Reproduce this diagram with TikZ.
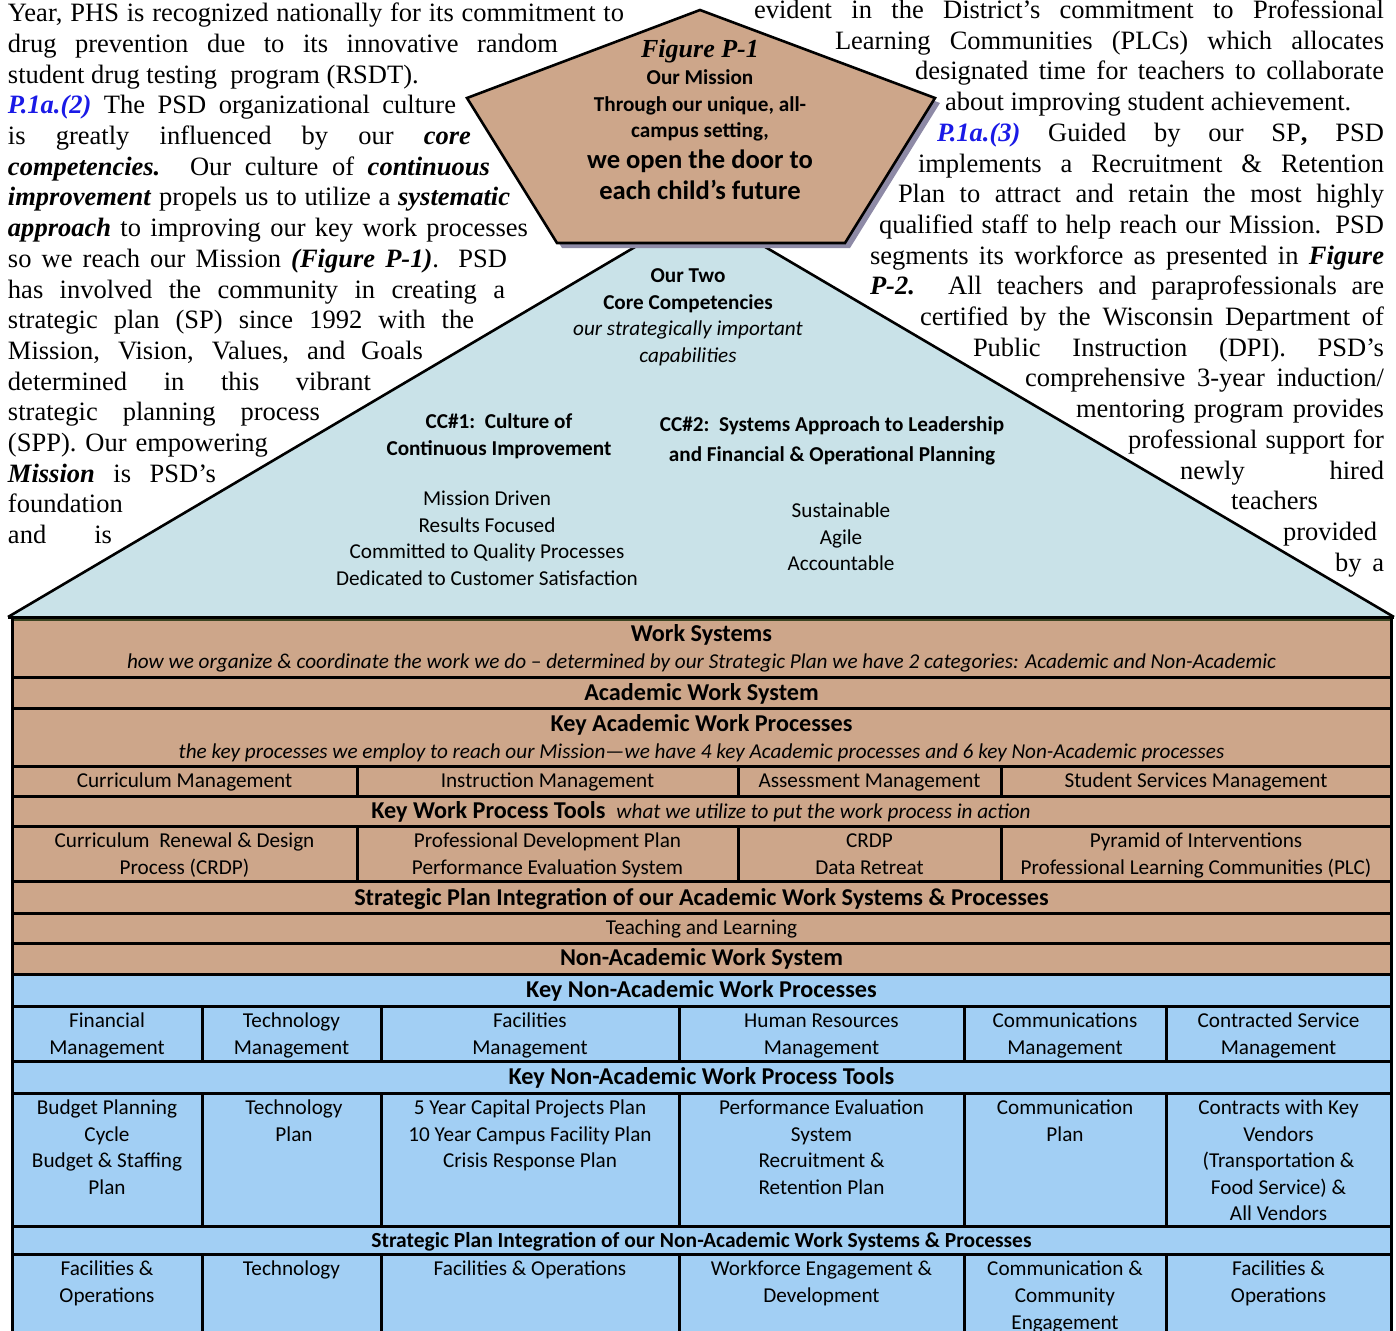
\documentclass[tikz,border=0pt]{standalone}
\usepackage{fontspec}
\setmainfont{Liberation Serif}
\newfontfamily\calfont{Carlito}
\definecolor{tanfill}{HTML}{CDA68A}
\definecolor{trifill}{HTML}{C9E2E8}
\definecolor{bluefill}{HTML}{A2CFF4}
\definecolor{shadowc}{HTML}{8E8AA6}
\definecolor{pblue}{HTML}{1A1AE6}
\definecolor{oliveline}{HTML}{3C4422}
\newcommand\bodysize{\fontsize{26.5}{30.7}\selectfont}
\newcommand\calsize{\calfont\fontsize{21.2}{26.5}\selectfont}
\newcommand\hdrsize{\calfont\fontsize{24.2}{30}\selectfont\bfseries}
\newcommand\bi[1]{\textbf{\textit{#1}}}
\newcommand\pref[1]{\textcolor{pblue}{\bi{#1}}}
\newcommand\J[2]{\makebox[#1pt][s]{#2}}
\tikzset{
  bodyl/.style={anchor=base west, inner sep=0pt, outer sep=0pt, font=\bodysize},
  ctext/.style={anchor=north, inner sep=0pt, outer sep=0pt, align=center, font=\calsize},
  hdr/.style={ctext, font=\hdrsize},
  cell27/.style={ctext, font=\calfont\fontsize{21.2}{27}\selectfont},
  rulel/.style={line width=3pt, line cap=rect},
  edgeline/.style={line width=2.6pt, line join=miter},
}
\begin{document}
\begin{tikzpicture}[x=1pt,y=-1pt]
\path[use as bounding box] (0,0) rectangle (1396,1330);
\clip (0,0) rectangle (1396,1330);

% ---------- body text, left column ----------
\node[bodyl] (L1) at (8,21.7) {\J{616}{Year, PHS is recognized nationally for its commitment to}};
\node[bodyl] (L2) at (8,52.4) {\J{550}{drug prevention due to its innovative random}};
\node[bodyl] (L3) at (8,83.1) {student drug testing\ \ program (RSDT).};
\node[bodyl] (L4) at (8,113.8) {\J{448}{\pref{P.1a.(2)} The PSD organizational culture}};
\node[bodyl] (L5) at (8,144.5) {\J{463}{is greatly influenced by our \bi{core}}};
\node[bodyl] (L6) at (8,175.2) {\J{482}{\bi{competencies.} Our culture of \bi{continuous}}};
\node[bodyl] (L7) at (8,205.9) {\J{502}{\bi{improvement} propels us to utilize a \bi{systematic}}};
\node[bodyl] (L8) at (8,236.6) {\J{520}{\bi{approach} to improving our key work processes}};
\node[bodyl] (L9) at (8,267.3) {\J{499}{so we reach our Mission \bi{(Figure P-1)}. PSD}};
\node[bodyl] (L10) at (8,298.0) {\J{497}{has involved the community in creating a}};
\node[bodyl] (L11) at (8,328.7) {\J{466}{strategic plan (SP) since 1992 with the}};
\node[bodyl] (L12) at (8,359.4) {\J{415}{Mission, Vision, Values, and Goals}};
\node[bodyl] (L13) at (8,390.1) {\J{363}{determined in this vibrant}};
\node[bodyl] (L14) at (8,420.8) {\J{312}{strategic planning process}};
\node[bodyl] (L15) at (8,451.5) {\J{260}{(SPP). Our empowering}};
\node[bodyl] (L16) at (8,482.2) {\J{208}{\bi{Mission} is PSD’s}};
\node[bodyl] (L17) at (8,512.9) {foundation};
\node[bodyl] (L18) at (8,543.6) {\J{104}{and is}};

% ---------- body text, right column ----------
\node[bodyl] (R1) at (754,18.5) {\J{630}{evident in the District’s commitment to Professional}};
\node[bodyl] (R2) at (835,49.2) {\J{549}{Learning Communities (PLCs) which allocates}};
\node[bodyl] (R3) at (915,79.9) {\J{469}{designated time for teachers to collaborate}};
\node[bodyl] (R4) at (945,110.6) {about improving student achievement.};
\node[bodyl] (R5) at (937,141.3) {\J{447}{\pref{P.1a.(3)} Guided by our SP\textbf{,} PSD}};
\node[bodyl] (R6) at (918,172.0) {\J{466}{implements a Recruitment \& Retention}};
\node[bodyl] (R7) at (898,202.7) {\J{486}{Plan to attract and retain the most highly}};
\node[bodyl] (R8) at (879,233.4) {\J{505}{qualified staff to help reach our Mission. PSD}};
\node[bodyl] (R9) at (870,264.1) {\J{514}{segments its workforce as presented in \bi{Figure}}};
\node[bodyl] (R10) at (870,294.8) {\J{514}{\bi{P-2.} All teachers and paraprofessionals are}};
\node[bodyl] (R11) at (920,325.5) {\J{464}{certified by the Wisconsin Department of}};
\node[bodyl] (R12) at (973,356.2) {\J{411}{Public Instruction (DPI). PSD’s}};
\node[bodyl] (R13) at (1025,386.9) {\J{359}{comprehensive 3-year induction/}};
\node[bodyl] (R14) at (1076,417.6) {\J{308}{mentoring program provides}};
\node[bodyl] (R15) at (1128,448.3) {\J{256}{professional support for}};
\node[bodyl] (R16) at (1180,479.0) {\J{204}{newly hired}};
\node[bodyl] (R17) at (1231,509.7) {teachers};
\node[bodyl] (R18) at (1283,540.4) {provided};
\node[bodyl] (R19) at (1335,571.1) {\J{49}{by a}};

% ---------- triangle (core competencies) ----------
\fill[trifill] (10,616) -- (700,208.6) -- (1392,616) -- cycle;
\draw[edgeline] (8,617) -- (700,208.6) -- (1394,617);
\draw[line width=3pt] (8,617) -- (1394,617);

% ---------- pentagon (mission) ----------
\fill[shadowc] (705,15) -- (940,103) -- (850,248) -- (562,248) -- (472,103) -- cycle;
\filldraw[fill=tanfill, draw=black, line width=2.6pt, line join=miter]
  (700,10) -- (935,98) -- (845,243) -- (557,243) -- (467,98) -- cycle;

\node[anchor=base, inner sep=0pt, font=\fontsize{26}{30}\selectfont] (figt) at (700,58) {\bi{Figure P-1}};
\node[ctext, font=\calsize\bfseries] (mis1) at (700,66) {\strut Our Mission\\Through our unique, all-\\campus setting,};
\node[ctext, font=\calfont\fontsize{26.6}{31}\selectfont\bfseries] (mis2) at (700,147) {\strut we open the door to\\each child’s future};

\node[ctext] (cc) at (688,264) {\strut\textbf{Our Two}\\\textbf{Core Competencies}\\\textit{our strategically important}\\\textit{capabilities}};
\node[ctext, font=\calsize\bfseries] (cc1) at (499,410) {\strut CC\#1:\ \ Culture of\\Continuous Improvement};
\node[ctext, font=\calfont\fontsize{21.2}{30}\selectfont\bfseries] (cc2) at (832,410) {\strut CC\#2:\ \ Systems Approach to Leadership\\and Financial \& Operational Planning};
\node[ctext] (cc1l) at (487,487) {\strut Mission Driven\\Results Focused\\Committed to Quality Processes\\Dedicated to Customer Satisfaction};
\node[ctext] (cc2l) at (841,499) {\strut Sustainable\\Agile\\Accountable};

% ---------- table ----------
\fill[tanfill] (12,619) rectangle (1391,974);
\fill[bluefill] (12,974) rectangle (1391,1335);
\draw[oliveline, line width=2pt] (12,620) -- (1391,620);
\foreach \yy in {677,708,766,796,826,881,913,943,974,1006,1061,1093,1226,1254}
  \draw[rulel] (12,\yy) -- (1391,\yy);
\draw[rulel] (12,618) -- (12,1335);
\draw[rulel] (1391,618) -- (1391,1335);
\foreach \xx in {357,738,1001} {
  \draw[rulel] (\xx,766) -- (\xx,796);
  \draw[rulel] (\xx,826) -- (\xx,881);
}
\foreach \xx in {202,381,679,964,1166} {
  \draw[rulel] (\xx,1006) -- (\xx,1061);
  \draw[rulel] (\xx,1093) -- (\xx,1226);
  \draw[rulel] (\xx,1254) -- (\xx,1335);
}

\node[hdr] (ws) at (701.5,620.5) {\strut Work Systems};
\node[ctext] (wsd) at (701.5,650) {\strut\textit{how we organize \& coordinate the work we do – determined by our Strategic Plan we have 2 categories: Academic and Non-Academic}};
\node[hdr] (aws) at (701.5,679.5) {\strut Academic Work System};
\node[hdr] (kawp) at (701.5,710.5) {\strut Key Academic Work Processes};
\node[ctext] (kawpd) at (701.5,740) {\strut\textit{the key processes we employ to reach our Mission—we have 4 key Academic processes and 6 key Non-Academic processes}};
\node[ctext] (a1) at (184.5,769) {\strut Curriculum Management};
\node[ctext] (a2) at (547.5,769) {\strut Instruction Management};
\node[ctext] (a3) at (869.5,769) {\strut Assessment Management};
\node[ctext] (a4) at (1196,769) {\strut Student Services Management};
\node[hdr] (kwpt) at (701,797.5) {\strut Key Work Process Tools\ \ {\mdseries\itshape\fontsize{21.2}{26.5}\selectfont what we utilize to put the work process in action}};
\node[cell27] (t1) at (184.5,829) {\strut Curriculum\ \ Renewal \& Design\\Process (CRDP)};
\node[cell27] (t2) at (547.5,829) {\strut Professional Development Plan\\Performance Evaluation System};
\node[cell27] (t3) at (869.5,829) {\strut CRDP\\Data Retreat};
\node[cell27] (t4) at (1196,829) {\strut Pyramid of Interventions\\Professional Learning Communities (PLC)};
\node[hdr] (spa) at (701.5,884.5) {\strut Strategic Plan Integration of our Academic Work Systems \& Processes};
\node[ctext] (tl) at (701.5,916) {\strut Teaching and Learning};
\node[hdr] (naws) at (701.5,944.5) {\strut Non-Academic Work System};
\node[hdr] (knawp) at (701.5,976.5) {\strut Key Non-Academic Work Processes};

\node[ctext] (n1) at (107,1009) {\strut Financial\\Management};
\node[ctext] (n2) at (291.5,1009) {\strut Technology\\Management};
\node[ctext] (n3) at (530,1009) {\strut Facilities\\Management};
\node[ctext] (n4) at (821.5,1009) {\strut Human Resources\\Management};
\node[ctext] (n5) at (1065,1009) {\strut Communications\\Management};
\node[ctext] (n6) at (1278.5,1009) {\strut Contracted Service\\Management};
\node[hdr] (knawpt) at (701.5,1063.5) {\strut Key Non-Academic Work Process Tools};

\node[ctext] (m1) at (107,1096) {\strut Budget Planning\\Cycle\\Budget \& Staffing\\Plan};
\node[ctext] (m2) at (294,1096) {\strut Technology\\Plan};
\node[ctext] (m3) at (530,1096) {\strut 5 Year Capital Projects Plan\\10 Year Campus Facility Plan\\Crisis Response Plan};
\node[ctext] (m4) at (821.5,1096) {\strut Performance Evaluation\\System\\Recruitment \&\\Retention Plan};
\node[ctext] (m5) at (1065,1096) {\strut Communication\\Plan};
\node[ctext] (m6) at (1278.5,1096) {\strut Contracts with Key\\Vendors\\(Transportation \&\\Food Service) \&\\All Vendors};

\node[ctext, font=\calfont\fontsize{21.5}{27}\selectfont\bfseries] (spn) at (701.5,1229) {\strut Strategic Plan Integration of our Non-Academic Work Systems \& Processes};

\node[cell27] (b1) at (107,1257) {\strut Facilities \&\\Operations};
\node[cell27] (b2) at (291.5,1257) {\strut Technology};
\node[cell27] (b3) at (530,1257) {\strut Facilities \& Operations};
\node[cell27] (b4) at (821.5,1257) {\strut Workforce Engagement \&\\Development};
\node[cell27] (b5) at (1065,1257) {\strut Communication \&\\Community\\Engagement};
\node[cell27] (b6) at (1278.5,1257) {\strut Facilities \&\\Operations};
\end{tikzpicture}
\end{document}
